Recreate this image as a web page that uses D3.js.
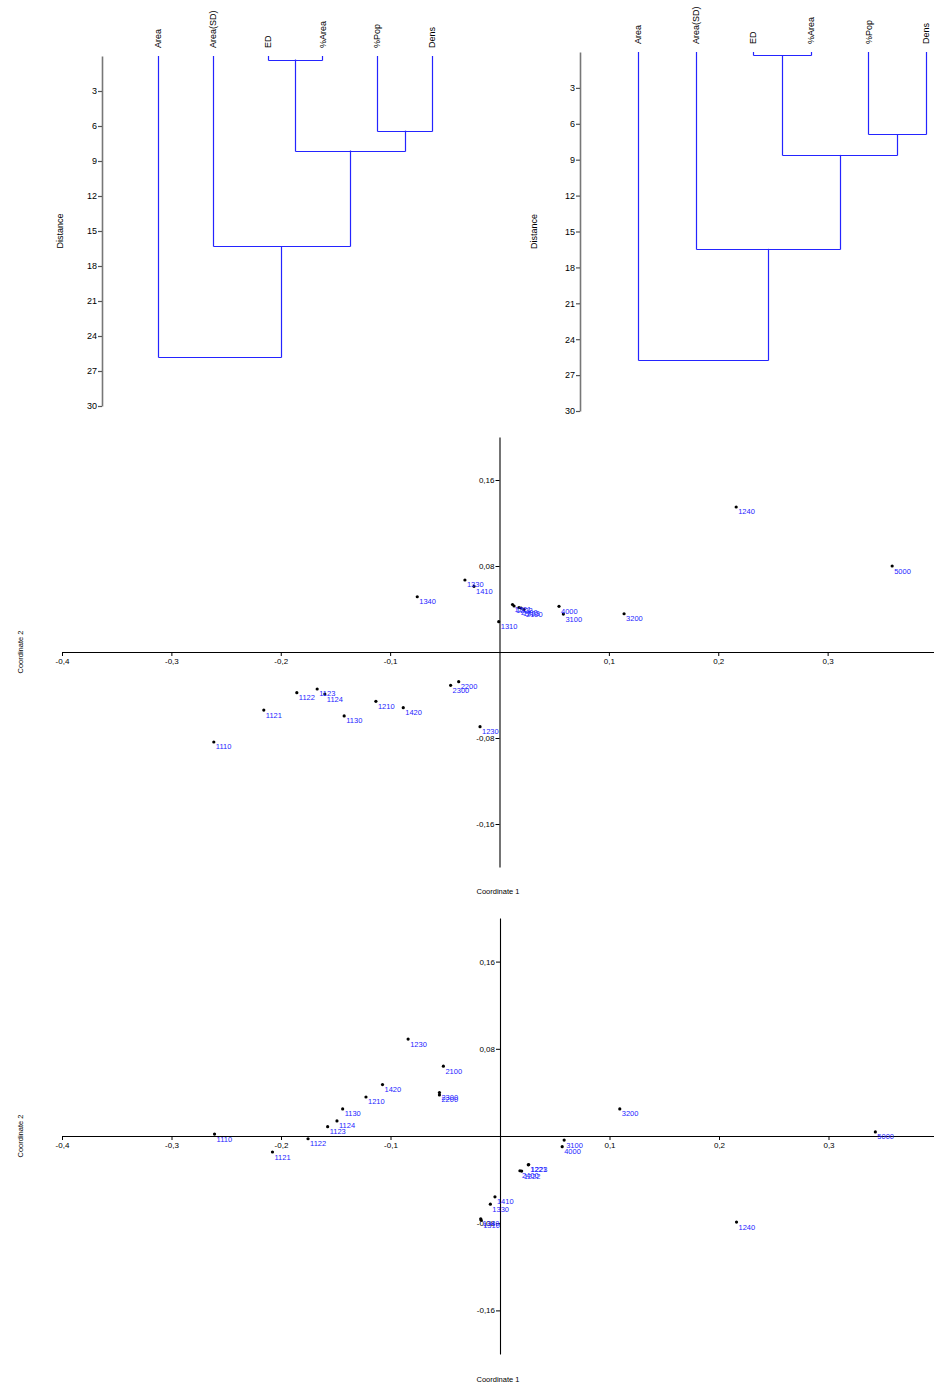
<!DOCTYPE html>
<meta charset="utf-8">
<head>
  <meta charset="UTF-8">
  <title>Dendrograms and PCoA</title>
  <style>
    body { margin: 0; background: #fff; }
    svg { display: block; font-family: "Liberation Sans", Arial, sans-serif; }
    .tick text { fill: #000; }
  </style>
</head>
<body>
<script src="https://cdn.jsdelivr.net/npm/d3@7"></script>
<div id="chart"></div>
<script>

// leaves of both dendrograms, left to right
var leaves = ["Area", "Area(SD)", "ED", "%Area", "%Pop", "Dens"];

// joins: [child a, child b, distance]; "c0".. refer to earlier joins
var joinsLeft = [
  ["ED", "%Area", 0.3],
  ["%Pop", "Dens", 6.4],
  ["c0", "c1", 8.1],
  ["Area(SD)", "c2", 16.3],
  ["Area", "c3", 25.8]
];
var joinsRight = [
  ["ED", "%Area", 0.25],
  ["%Pop", "Dens", 6.85],
  ["c0", "c1", 8.6],
  ["Area(SD)", "c2", 16.45],
  ["Area", "c3", 25.75]
];
var distTicks = [3, 6, 9, 12, 15, 18, 21, 24, 27, 30];

// ordination 1
var codes1 = ["1240", "5000", "1330", "1410", "1340", "1310", "4000", "3100", "3200",
  "1221", "1222", "2400", "1223", "2100",
  "1122", "1123", "1124", "1121", "1130", "1210", "1420", "2300", "2200", "1230", "1110"];
var coord1x = [0.2164, 0.359, -0.0316, -0.0233, -0.0752, -0.0007, 0.0544, 0.0584, 0.1139,
  0.0119, 0.0133, 0.0178, 0.0197, 0.0224,
  -0.1853, -0.1667, -0.1597, -0.2155, -0.142, -0.113, -0.088, -0.0447, -0.0373, -0.0178, -0.2612];
var coord1y = [0.1349, 0.080, 0.067, 0.0611, 0.0514, 0.0282, 0.0425, 0.0353, 0.0356,
  0.0442, 0.0428, 0.0414, 0.0409, 0.0395,
  -0.0378, -0.0344, -0.0391, -0.054, -0.0595, -0.0459, -0.0518, -0.031, -0.0276, -0.0695, -0.0837];

// ordination 2
var codes2 = ["1230", "2100", "2300", "2200", "3200", "5000", "1110", "1121", "1122", "1123",
  "1124", "1130", "1210", "1420", "3100", "4000", "1221", "1223", "2400", "1222",
  "1410", "1330", "1340", "1310", "1240"];
var coord2x = [-0.0839, -0.0517, -0.0553, -0.0553, 0.1094, 0.3428, -0.2607, -0.2078, -0.1753, -0.1574,
  -0.1489, -0.1437, -0.1224, -0.1073, 0.0586, 0.0568, 0.0258, 0.0262, 0.0182, 0.0198,
  -0.0046, -0.0088, -0.0176, -0.0172, 0.216];
var coord2y = [0.0889, 0.0641, 0.0398, 0.0377, 0.0248, 0.0037, 0.0018, -0.0147, -0.0025, 0.0086,
  0.0138, 0.0248, 0.0358, 0.0472, -0.0037, -0.0098, -0.0264, -0.0262, -0.0319, -0.0322,
  -0.0558, -0.0625, -0.076, -0.0772, -0.079];

var xTicks = [-0.4, -0.3, -0.2, -0.1, 0.1, 0.2, 0.3];
var yTicks = [-0.16, -0.08, 0.08, 0.16];

var width = 934, height = 1385;
var blue = "#2424ff";

var svg = d3.select("#chart").append("svg")
    .attr("width", width)
    .attr("height", height);

var comma = d3.formatLocale({decimal: ",", thousands: ".", grouping: [3], currency: ["", ""], minus: "-"}).format(".2~f");

// snap to pixel centre so the 1px lines stay crisp
function crisp(v) { return Math.round(v) + 0.5; }

function dendrogram(joins, xRange, yRange, axisX, titleX) {
  var g = svg.append("g");
  var x = d3.scalePoint().domain(leaves).range(xRange);
  var y = d3.scaleLinear().domain([0, 30]).range(yRange);

  var nodes = {};
  leaves.forEach(function(l) { nodes[l] = {x: x(l), h: 0}; });
  joins.forEach(function(j, i) {
    var a = nodes[j[0]], b = nodes[j[1]];
    var n = {x: (a.x + b.x) / 2, h: j[2]};
    nodes["c" + i] = n;
    [a, b].forEach(function(c) {
      g.append("line")
        .attr("x1", crisp(c.x)).attr("x2", crisp(c.x))
        .attr("y1", y(c.h)).attr("y2", crisp(y(n.h)))
        .attr("stroke", blue).attr("stroke-width", 1.2);
    });
    g.append("line")
      .attr("x1", crisp(a.x)).attr("x2", crisp(b.x))
      .attr("y1", crisp(y(n.h))).attr("y2", crisp(y(n.h)))
      .attr("stroke", blue).attr("stroke-width", 1.2);
  });

  g.selectAll(".leaf")
    .data(leaves)
    .enter().append("text")
      .attr("class", "leaf")
      .attr("transform", function(d) { return "translate(" + x(d) + "," + (yRange[0] - 8) + ")rotate(-90)"; })
      .attr("text-anchor", "start")
      .attr("dy", "0.35em")
      .style("font-size", "9px")
      .text(function(d) { return d; });

  var ax = g.append("g")
    .attr("transform", "translate(" + axisX + ",0)")
    .call(d3.axisLeft(y).tickValues(distTicks).tickSize(4).tickSizeOuter(0));
  ax.select(".domain").attr("stroke", "#777").attr("stroke-width", 1.6);
  ax.selectAll(".tick line").attr("stroke", "#555").attr("stroke-width", 1.2);
  ax.selectAll(".tick text").style("font-size", "9px").attr("x", -5);

  g.append("text")
    .attr("transform", "translate(" + titleX + "," + (yRange[0] + yRange[1]) / 2 + ")rotate(-90)")
    .attr("text-anchor", "middle")
    .attr("dy", "0.35em")
    .style("font-size", "9px")
    .text("Distance");
}

dendrogram(joinsLeft, [158, 432], [56, 406], 102, 60);
dendrogram(joinsRight, [638, 926], [52, 411], 580, 534);

function ordination(codes, cx, cy, xRange, yRange, titleY) {
  var g = svg.append("g");
  var x = d3.scaleLinear().domain([-0.4, 0.4]).range(xRange);
  var y = d3.scaleLinear().domain([-0.2, 0.2]).range(yRange);

  var xa = g.append("g")
    .attr("transform", "translate(0," + y(0) + ")")
    .call(d3.axisBottom(x).tickValues(xTicks).tickFormat(comma).tickSize(4).tickSizeOuter(0));
  var ya = g.append("g")
    .attr("transform", "translate(" + x(0) + ",0)")
    .call(d3.axisLeft(y).tickValues(yTicks).tickFormat(comma).tickSize(4).tickSizeOuter(0));
  [xa, ya].forEach(function(a) {
    a.select(".domain").attr("stroke", "#000").attr("stroke-width", 1.1);
    a.selectAll(".tick line").attr("stroke", "#000");
    a.selectAll(".tick text").style("font-size", "8px");
  });
  xa.selectAll(".tick text").attr("y", 6);
  ya.selectAll(".tick text").attr("x", -5);

  var pts = codes.map(function(c, i) { return {code: c, x: cx[i], y: cy[i]}; });

  g.selectAll(".dot")
    .data(pts)
    .enter().append("circle")
      .attr("class", "dot")
      .attr("cx", function(d) { return x(d.x); })
      .attr("cy", function(d) { return y(d.y); })
      .attr("r", 1.6)
      .attr("fill", "#000");

  g.selectAll(".lbl")
    .data(pts)
    .enter().append("text")
      .attr("class", "lbl")
      .attr("x", function(d) { return x(d.x) + 2; })
      .attr("y", function(d) { return y(d.y) + 7.5; })
      .style("font-size", "7.5px")
      .attr("fill", blue)
      .text(function(d) { return d.code; });

  g.append("text")
    .attr("x", 498).attr("y", titleY)
    .attr("text-anchor", "middle")
    .style("font-size", "7.5px")
    .text("Coordinate 1");
  g.append("text")
    .attr("transform", "translate(20," + y(0) + ")rotate(-90)")
    .attr("text-anchor", "middle")
    .attr("dy", "0.35em")
    .style("font-size", "7.5px")
    .text("Coordinate 2");
}

ordination(codes1, coord1x, coord1y, [62, 937], [867, 437], 894);
ordination(codes2, coord2x, coord2y, [62, 938], [1354, 918], 1382);

</script>
</body>
